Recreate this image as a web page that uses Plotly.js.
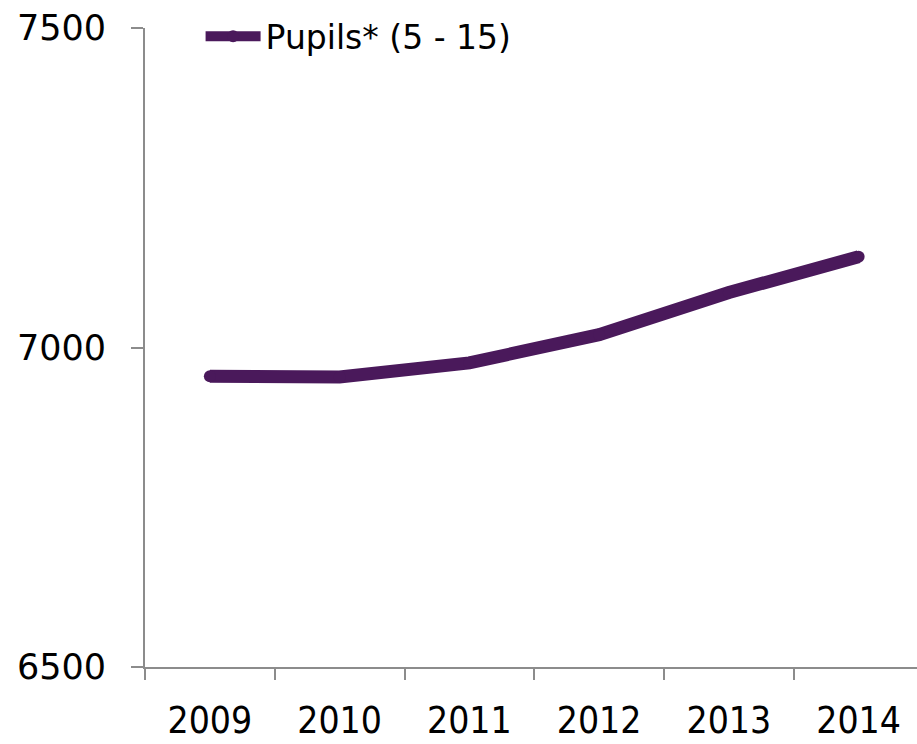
<!DOCTYPE html>
<html>
<head>
<meta charset="utf-8">
<script src="https://cdn.plot.ly/plotly-3.0.1.min.js"></script>
<style>html,body{margin:0;padding:0;background:#fff;}#chart{width:917px;height:744px;}</style>
</head>
<body>
<div id="chart"></div>
<script>
const years = ['2009', '2010', '2011', '2012', '2013', '2014'];
const pupils = [6955, 6954, 6976, 7020, 7086, 7142];
const seriesName = 'Pupils* (5 - 15)';
const yTicks = [6500, 7000, 7500];

const trace = {
  x: years,
  y: pupils,
  name: seriesName,
  type: 'scatter',
  mode: 'lines+markers',
  line: {color: '#4a195b', width: 13},
  marker: {color: '#4a195b', size: 12},
  showlegend: true
};

const layout = {
  width: 917,
  height: 744,
  margin: {l: 145, r: 0, t: 28, b: 77},
  paper_bgcolor: '#ffffff',
  plot_bgcolor: '#ffffff',
  showlegend: true,
  legend: {
    x: 0.072, y: 0.987, xanchor: 'left', yanchor: 'middle',
    itemwidth: 55,
    font: {family: 'DejaVu Sans, Verdana, sans-serif', size: 33, color: '#000'},
    bgcolor: 'rgba(0,0,0,0)', borderwidth: 0
  },
  xaxis: {
    type: 'category',
    range: [-0.5, 5.45],
    tickson: 'boundaries',
    ticks: 'outside',
    ticklen: 11,
    tickwidth: 2,
    tickcolor: '#8c8c8c',
    showline: true,
    linecolor: '#8c8c8c',
    linewidth: 2,
    showgrid: false,
    zeroline: false,
    ticklabelstandoff: 20,
    tickfont: {family: 'DejaVu Sans Condensed, DejaVu Sans, sans-serif', size: 37, color: '#000'}
  },
  yaxis: {
    range: [6500, 7500],
    tickvals: yTicks,
    ticktext: yTicks.map(String),
    ticks: 'outside',
    ticklen: 12,
    tickwidth: 2,
    tickcolor: '#8c8c8c',
    showline: true,
    linecolor: '#8c8c8c',
    linewidth: 2,
    showgrid: false,
    zeroline: false,
    ticklabelstandoff: 18,
    tickfont: {family: 'DejaVu Sans, Verdana, sans-serif', size: 35, color: '#000'}
  }
};

Plotly.newPlot('chart', [trace], layout, {displayModeBar: false, staticPlot: true});
</script>
</body>
</html>
